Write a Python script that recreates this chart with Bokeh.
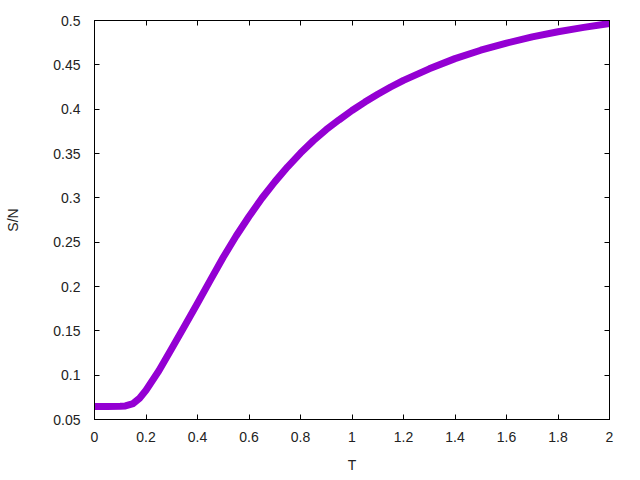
from bokeh.plotting import figure
from bokeh.models import LinearAxis, FixedTicker, CustomJSTickFormatter, Range1d
from bokeh.embed import file_html
from bokeh.resources import INLINE

# Data
T = [0.00, 0.05, 0.10, 0.12, 0.15, 0.175, 0.20, 0.25, 0.30, 0.35, 0.40, 0.45,
     0.50, 0.55, 0.60, 0.65, 0.70, 0.75, 0.80, 0.85, 0.90, 0.95, 1.00, 1.05,
     1.10, 1.15, 1.20, 1.30, 1.40, 1.50, 1.60, 1.70, 1.80, 1.90, 2.00]
S_N = [0.0647, 0.0647, 0.0649, 0.0653, 0.0680, 0.0740, 0.0830, 0.1050, 0.1302,
       0.1555, 0.1810, 0.2072, 0.2330, 0.2570, 0.2790, 0.2995, 0.3180, 0.3350,
       0.3505, 0.3645, 0.3770, 0.3880, 0.3985, 0.4080, 0.4168, 0.4250, 0.4325,
       0.4455, 0.4570, 0.4665, 0.4745, 0.4815, 0.4873, 0.4922, 0.4966]

x_ticks = [0, 0.2, 0.4, 0.6, 0.8, 1, 1.2, 1.4, 1.6, 1.8, 2]
y_ticks = [0.05, 0.1, 0.15, 0.2, 0.25, 0.3, 0.35, 0.4, 0.45, 0.5]

FONT = "Liberation Sans"
FS = "14px"
TXT = "#222222"

p = figure(width=640, height=480, output_backend="svg", toolbar_location=None,
           x_range=Range1d(0, 2), y_range=Range1d(0.05, 0.5),
           min_border_left=94, min_border_right=31, min_border_top=20,
           min_border_bottom=61)
p.background_fill_color = "white"
p.border_fill_color = "white"
p.outline_line_color = "black"
p.outline_line_width = 1
p.xgrid.visible = False
p.ygrid.visible = False

p.line(T, S_N, line_color="#9400D3", line_width=7, line_join="round")

fmt = CustomJSTickFormatter(code="return String(parseFloat(tick.toFixed(2)));")
blank = CustomJSTickFormatter(code="return '';")

for ax in p.xaxis:
    ax.ticker = FixedTicker(ticks=x_ticks)
    ax.formatter = fmt
    ax.axis_label = "T"
    ax.axis_label_standoff = 12
    ax.major_label_standoff = 12
for ax in p.yaxis:
    ax.ticker = FixedTicker(ticks=y_ticks)
    ax.formatter = fmt
    ax.axis_label = "S/N"
    ax.axis_label_standoff = 29
    ax.major_label_standoff = 14

for ax in list(p.xaxis) + list(p.yaxis):
    ax.major_tick_in = 5
    ax.major_tick_out = 0
    ax.minor_tick_in = 0
    ax.minor_tick_out = 0
    ax.axis_line_color = "black"
    ax.major_tick_line_color = "black"
    ax.major_label_text_font = FONT
    ax.major_label_text_font_size = FS
    ax.major_label_text_color = TXT
    ax.major_label_text_font_style = "normal"
    ax.axis_label_text_font = FONT
    ax.axis_label_text_font_size = FS
    ax.axis_label_text_color = TXT
    ax.axis_label_text_font_style = "normal"

top = LinearAxis(ticker=FixedTicker(ticks=x_ticks), formatter=blank,
                 major_label_text_font_size="6px",
                 major_tick_in=5, major_tick_out=0, minor_tick_in=0, minor_tick_out=0,
                 major_label_standoff=0, axis_line_color="black")
right = LinearAxis(ticker=FixedTicker(ticks=y_ticks), formatter=blank,
                   major_label_text_font_size="6px",
                   major_tick_in=5, major_tick_out=0, minor_tick_in=0, minor_tick_out=0,
                   major_label_standoff=0, axis_line_color="black")
p.add_layout(top, "above")
p.add_layout(right, "right")

open("out.html", "w").write(file_html(p, INLINE))
